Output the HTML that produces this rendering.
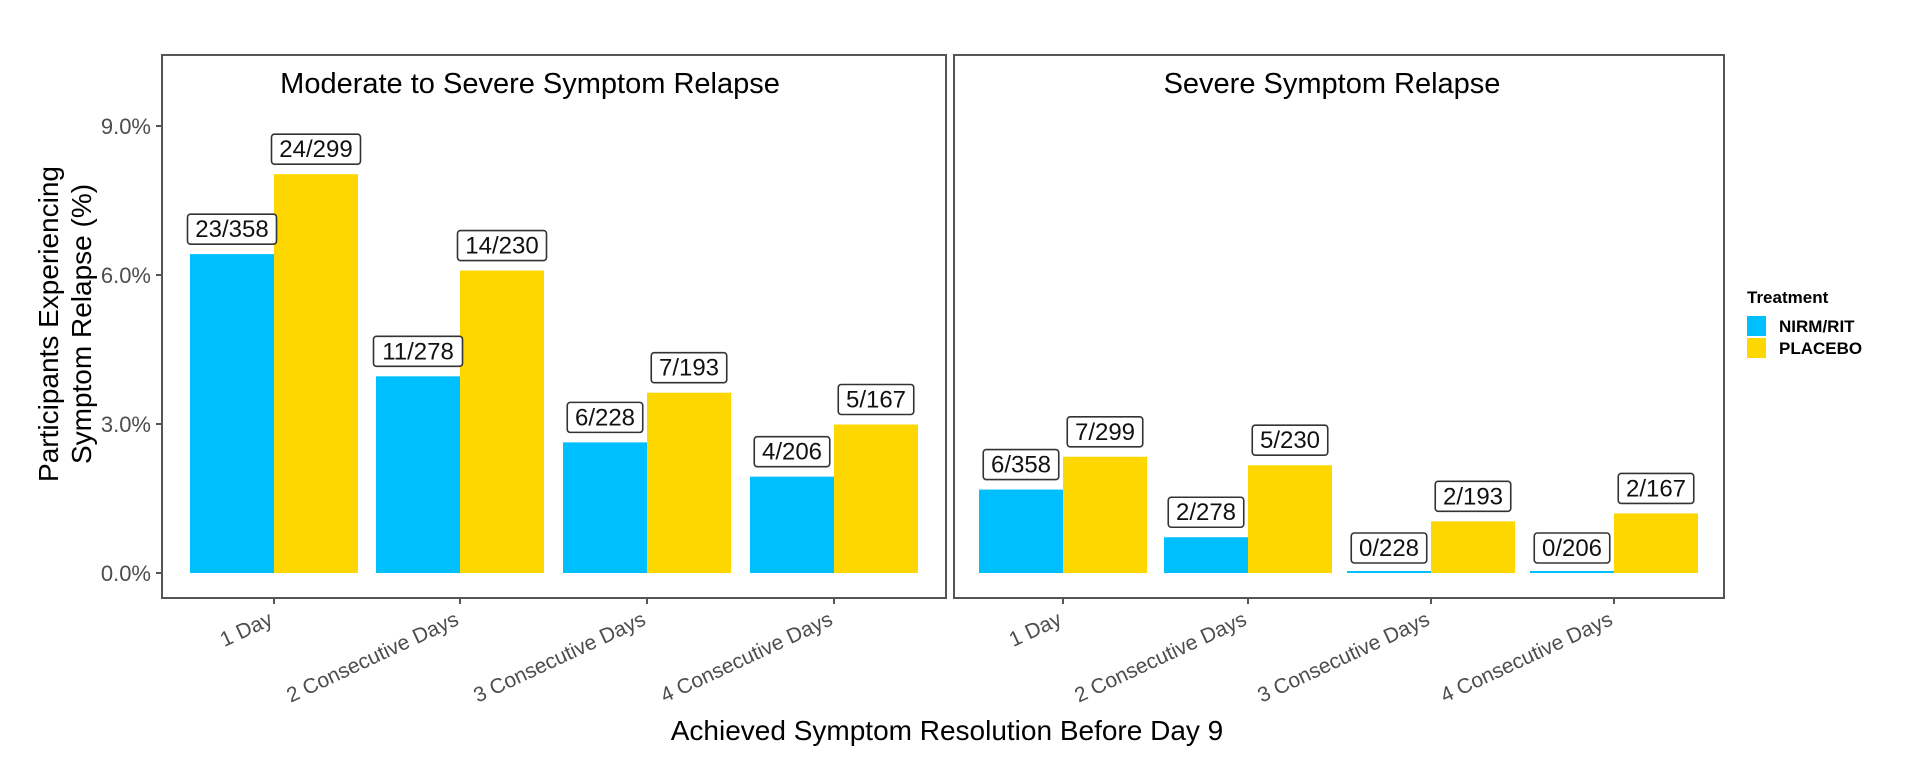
<!DOCTYPE html>
<html><head><meta charset="utf-8"><style>
html,body{margin:0;padding:0;background:#fff;}
svg{display:block;font-family:"Liberation Sans",sans-serif;}
</style></head><body>
<svg id="chart" width="1932" height="764" viewBox="0 0 1932 764" xmlns="http://www.w3.org/2000/svg"></svg>
<script>
const categories = ["1 Day","2 Consecutive Days","3 Consecutive Days","4 Consecutive Days"];
const panelTitles = ["Moderate to Severe Symptom Relapse","Severe Symptom Relapse"];
const modNirm = [6.42, 3.96, 2.63, 1.94];
const modPlacebo = [8.03, 6.09, 3.63, 2.99];
const sevNirm = [1.68, 0.72, 0, 0];
const sevPlacebo = [2.34, 2.17, 1.04, 1.20];
const modNirmLabels = ["23/358","11/278","6/228","4/206"];
const modPlaceboLabels = ["24/299","14/230","7/193","5/167"];
const sevNirmLabels = ["6/358","2/278","0/228","0/206"];
const sevPlaceboLabels = ["7/299","5/230","2/193","2/167"];
const yTicks = [0, 3, 6, 9];
const yTickLabels = ["0.0%","3.0%","6.0%","9.0%"];

const NS = "http://www.w3.org/2000/svg";
const svg = document.getElementById("chart");
function mk(tag, attrs, parent){const e=document.createElementNS(NS,tag);for(const k in attrs)e.setAttribute(k,attrs[k]);(parent||svg).appendChild(e);return e;}

const y0 = 573, pxPerPct = 149/3;
function yScale(v){return y0 - v*pxPerPct;}
const panels = [
  {left:162,right:946,centers:[274,460,647,834],nirm:modNirm,plac:modPlacebo,nl:modNirmLabels,pl:modPlaceboLabels,titleX:530},
  {left:954,right:1724,centers:[1063,1248,1431,1614],nirm:sevNirm,plac:sevPlacebo,nl:sevNirmLabels,pl:sevPlaceboLabels,titleX:1332}
];
const plotTop=55, plotBottom=598, bw=84;

function label(x, v, txt, g){
  const yb = yScale(v) - 10;
  const w = txt.length*13.5+8;
  const r = mk("rect",{x:x-w/2,y:yb-30,width:w,height:30,rx:3,fill:"#fff",stroke:"#333","stroke-width":1.6},g);
  
  
  const t = mk("text",{x:x,y:yb-7,"text-anchor":"middle","font-size":24,fill:"#111"},g);
  t.textContent = txt;
  
  
}

panels.forEach((p,pi)=>{
  const g = mk("g",{});
  
  
  const fr = mk("rect",{x:p.left,y:plotTop,width:p.right-p.left,height:plotBottom-plotTop,fill:"none",stroke:"#555","stroke-width":2},g);
  
  
  const tt = mk("text",{x:p.titleX,y:93,"text-anchor":"middle","font-size":29,fill:"#000"},g);
  tt.textContent = panelTitles[pi];
  
  
  p.centers.forEach((c,i)=>{
    const vb = p.nirm[i], vp = p.plac[i];
    const hb = Math.max(y0-yScale(vb),2);
    const b = mk("rect",{x:c-bw,y:y0-hb,width:bw,height:hb,fill:"#00BFFF"},g);
    
    
    const b2 = mk("rect",{x:c,y:yScale(vp),width:bw,height:y0-yScale(vp),fill:"#FFD700"},g);
    
    
    label(c-bw/2, vb, p.nl[i], g);
    label(c+bw/2, vp, p.pl[i], g);
    mk("line",{x1:c,x2:c,y1:plotBottom,y2:plotBottom+6,stroke:"#555","stroke-width":2},g);
    const tl = mk("text",{x:c,y:plotBottom+26,"text-anchor":"end","font-size":21,fill:"#4d4d4d",transform:`rotate(-25 ${c} ${plotBottom+26})`},g);
    tl.textContent = categories[i];
    
    
  });
});
yTicks.forEach((v,i)=>{
  const y = yScale(v);
  mk("line",{x1:156,x2:162,y1:y,y2:y,stroke:"#555","stroke-width":2});
  const t = mk("text",{x:151,y:y+8,"text-anchor":"end","font-size":22,fill:"#4d4d4d"});
  t.textContent = yTickLabels[i];
  
  
});
const yt = mk("text",{transform:"translate(58 324) rotate(-90)","text-anchor":"middle","font-size":28,fill:"#000"});


const s1 = mk("tspan",{x:0,y:0},yt); s1.textContent="Participants Experiencing";
const s2 = mk("tspan",{x:0,y:33},yt); s2.textContent="Symptom Relapse (%)";
const xt = mk("text",{x:947,y:740,"text-anchor":"middle","font-size":28,fill:"#000"});
xt.textContent = "Achieved Symptom Resolution Before Day 9";



const lg = mk("g",{});


const lt = mk("text",{x:1747,y:303,"font-size":17,"font-weight":"bold",fill:"#000"},lg);
lt.textContent="Treatment";
[["NIRM/RIT","#00BFFF",316],["PLACEBO","#FFD700",338]].forEach(([n,c,y])=>{
  const r = mk("rect",{x:1747,y:y,width:19,height:20,fill:c},lg);
  
  
  const t = mk("text",{x:1779,y:y+16,"font-size":17,"font-weight":"bold",fill:"#000"},lg);
  t.textContent=n;
  
  
});
</script>
</body></html>
